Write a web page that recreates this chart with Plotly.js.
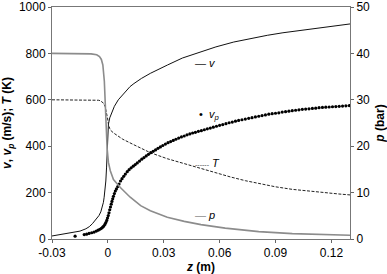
<!DOCTYPE html>
<html>
<head>
<meta charset="utf-8">
<script src="https://cdn.plot.ly/plotly-3.0.1.min.js"></script>
<style>html,body{margin:0;padding:0;background:#fff;}#chart{width:387px;height:274px;}</style>
</head>
<body>
<div id="chart"></div>
<script>
// gas velocity v (m/s)
const zV = [-0.03,-0.025,-0.019,-0.015,-0.0118,-0.01,-0.0083,-0.0065,-0.0048,-0.0038,-0.003,-0.0024,-0.002,-0.0015,-0.0011,-0.0007,-0.0003,0.0003,0.001,0.002,0.0035,0.0056,0.008,0.0119,0.014,0.018,0.0228,0.027,0.032,0.04,0.05,0.058,0.0676,0.076,0.0856,0.094,0.1034,0.112,0.121,0.13];
const v  = [13,19,26,34,44,53,66,82,101,117,137,158,180,208,250,310,390,495,522,543,572,600,622,657,670,692,714,732,750,780,806,828,849,864,878,889,899,909,918,927];

// temperature T (K)
const zT = [-0.03,-0.015,-0.008,-0.005,-0.004,-0.0032,-0.0023,-0.0015,-0.0008,-0.0002,0.0003,0.001,0.0025,0.005,0.008,0.014,0.0228,0.0319,0.041,0.05,0.058,0.066,0.074,0.082,0.09,0.099,0.108,0.117,0.124,0.13];
const T  = [600,600,599,598,596,592,585,572,550,522,495,476,460,447,430,406,372,346,324,304,285,267,251,237,225,214,206,199,194,190];

// pressure p (bar)
const zP = [-0.03,-0.015,-0.009,-0.006,-0.0045,-0.0035,-0.0027,-0.0019,-0.0012,-0.0004,0.0003,0.0013,0.003,0.0067,0.012,0.0176,0.0228,0.0319,0.041,0.05,0.063,0.081,0.099,0.117,0.13];
const p  = [40,40,39.9,39.7,39.3,38.7,37.5,34,27,19.5,16.5,14.7,12.8,11.1,9,7.2,6.1,4.7,3.8,3.1,2.35,1.6,1.15,0.94,0.8];

// particle velocity vp (m/s)
const zVp = [-0.0176,-0.0127,-0.0114,-0.0101,-0.0087,-0.0074,-0.0062,-0.0052,-0.0043,-0.0035,-0.0028,-0.0022,-0.0016,-0.0011,-0.0006,-0.0002,0.0002,0.0006,0.001,0.0014,0.0018,0.0022,0.0026,0.003,0.0035,0.004,0.0046,0.0053,0.006,0.0068,0.0076,0.0085,0.0094,0.0104,0.0114,0.0125,0.0136,0.0147,0.0158,0.017,0.0182,0.0194,0.0206,0.0218,0.023,0.0243,0.0256,0.0269,0.0282,0.0295,0.0309,0.0323,0.0337,0.0351,0.0365,0.038,0.0395,0.041,0.0425,0.044,0.0455,0.047,0.0486,0.0502,0.0518,0.0534,0.055,0.0566,0.0583,0.06,0.0617,0.0634,0.0651,0.0668,0.0685,0.0702,0.072,0.0738,0.0756,0.0774,0.0792,0.081,0.0828,0.0846,0.0864,0.0882,0.09,0.0918,0.0936,0.0954,0.0972,0.099,0.1008,0.1026,0.1044,0.1062,0.108,0.1098,0.1116,0.1134,0.1152,0.117,0.1188,0.1206,0.1224,0.1242,0.126,0.1278,0.1296];
const vp  = [12,19,21,24,27,30,34,38,42,46,51,56,63,71,80,90,101,113,126,138,150,162,173,184,196,207,216,226,237,250,260,270,280,290,299,307,314,321,328,336,344,351,358,365,372,378,384,391,397,403,409,415,420,425,430,435,440,444,449,453,457,460,464,467,471,475,478,482,486,490,493,497,501,504,508,511,514,517,520,523,526,529,532,535,538,540,542,544,547,549,551,553,555,557,559,560,561,563,564,566,567,568,569,570,571,572,573,574,575];

const xTicks = [-0.03,0,0.03,0.06,0.09,0.12];
const xTickText = ['-0.03','0','0.03','0.06','0.09','0.12'];
const yTicks = [0,200,400,600,800,1000];
const y2Ticks = [0,10,20,30,40,50];

const FONT = 'Liberation Sans, Arial, sans-serif';
const traces = [
  {x: zV, y: v, mode:'lines', line:{color:'#111', width:1}, hoverinfo:'skip'},
  {x: zT, y: T, mode:'lines', line:{color:'#222', width:1, dash:'3px,1.5px'}, hoverinfo:'skip'},
  {x: zP, y: p, yaxis:'y2', mode:'lines', line:{color:'#8c8c8c', width:1.6}, hoverinfo:'skip'},
  {x: zVp, y: vp, mode:'markers', marker:{color:'#000', size:3.2}, hoverinfo:'skip'}
];

const M = {l:52, r:37, t:7, b:35};
const PW = 387 - M.l - M.r, PH = 274 - M.t - M.b;
function px2x(px){ return (px-M.l)/PW; }
function py2y(py){ return (274-M.b-py)/PH; }

const tickF = {family:FONT, size:12, color:'#000'};
const titleF = {family:FONT, size:12, color:'#000'};
const annFont = {family: FONT, size: 11, color:'#000'};
const layout = {
  width: 387, height: 274,
  margin: M,
  paper_bgcolor:'#fff', plot_bgcolor:'#fff',
  showlegend:false,
  font: {family: FONT, size: 12, color:'#000'},
  xaxis: {
    range:[-0.03,0.13], tickvals: xTicks, ticktext: xTickText, ticklabeloverflow:'allow',
    ticks:'outside', ticklen:3, tickcolor:'#666',
    showline:true, linecolor:'#777', linewidth:1, mirror:true,
    showgrid:false, zeroline:false, tickfont:tickF,
    title:{text:'<b><i>z</i> (m)</b>', font:titleF, standoff:6}
  },
  yaxis: {
    range:[0,1000], tickvals: yTicks, ticktext: yTicks.map(String), ticklabeloverflow:'allow',
    ticks:'outside', ticklen:3, tickcolor:'#666',
    showline:true, linecolor:'#777', linewidth:1,
    showgrid:false, zeroline:false, tickfont:tickF,
    title:{text:'<b><i>v</i>, <i>v</i><sub><i>p</i></sub> (m/s); <i>T</i> (K)</b>', font:titleF, standoff:6}
  },
  yaxis2: {
    range:[0,50], tickvals: y2Ticks, ticktext: y2Ticks.map(String), ticklabeloverflow:'allow',
    overlaying:'y', side:'right',
    ticks:'outside', ticklen:3, tickcolor:'#666',
    showline:true, linecolor:'#777', linewidth:1,
    showgrid:false, zeroline:false, tickfont:tickF,
    title:{text:'<b><i>p</i> (bar)</b>', font:titleF, standoff:8}
  },
  annotations: [
    {xref:'paper', yref:'paper', x:px2x(193), y:py2y(63), xanchor:'left', yanchor:'middle', showarrow:false, font:annFont,
     text:'<span style="color:#222">—</span> <i>v</i>'},
    {xref:'paper', yref:'paper', x:px2x(197), y:py2y(115), xanchor:'left', yanchor:'middle', showarrow:false, font:annFont,
     text:'•  <i>v</i><sub><i>p</i></sub>'},
    {xref:'paper', yref:'paper', x:px2x(193), y:py2y(163), xanchor:'left', yanchor:'middle', showarrow:false, font:annFont,
     text:'<span style="color:#444;font-size:7px">------</span> <i>T</i>'},
    {xref:'paper', yref:'paper', x:px2x(193), y:py2y(215), xanchor:'left', yanchor:'middle', showarrow:false, font:annFont,
     text:'<span style="color:#8c8c8c">—</span> <i>p</i>'}
  ]
};

Plotly.newPlot('chart', traces, layout, {staticPlot:true, displayModeBar:false});
</script>
</body>
</html>
